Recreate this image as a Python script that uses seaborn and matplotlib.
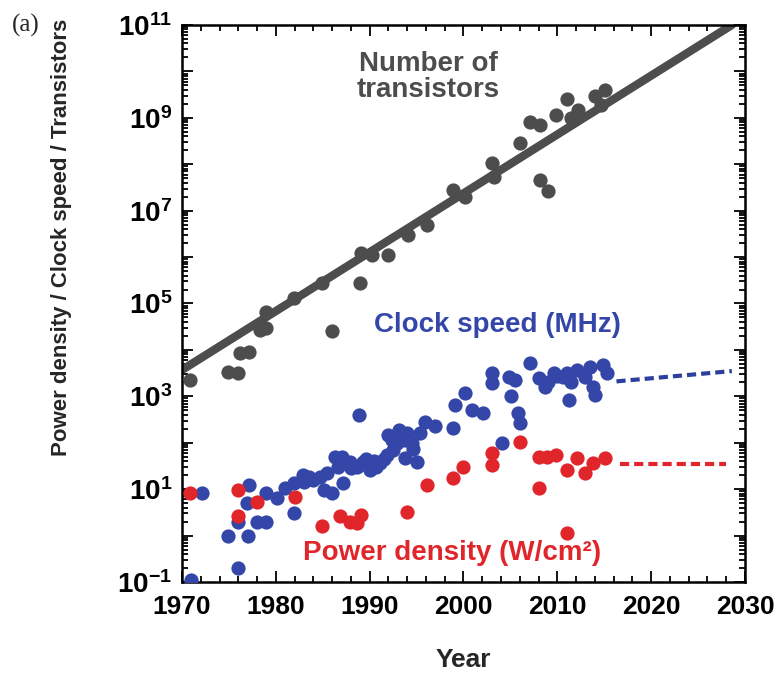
import matplotlib
matplotlib.use("Agg")
import matplotlib.pyplot as plt
import seaborn as sns
import numpy as np
import pandas as pd
from matplotlib.ticker import LogLocator, MultipleLocator, NullFormatter

# data
trans_years = [1970.9, 1974.9, 1976.0, 1976.2, 1977.1, 1978.3, 1979.0, 1979.0, 1981.9, 1984.9,
               1986.0, 1989.0, 1989.1, 1990.2, 1992.0, 1994.1, 1996.1, 1998.9, 2000.2, 2003.0,
               2003.2, 2006.0, 2007.1, 2008.2, 2008.2, 2009.0, 2009.9, 2011.0, 2011.5, 2012.2,
               2014.0, 2014.7, 2015.1]
trans_values = [2.2e3, 3.4e3, 3.2e3, 8.5e3, 9.1e3, 2.7e4, 3.0e4, 6.6e4, 1.3e5, 2.75e5,
                2.5e4, 2.75e5, 1.2e6, 1.1e6, 1.1e6, 3.0e6, 4.9e6, 2.8e7, 2.0e7, 1.05e8,
                5.4e7, 2.8e8, 8.3e8, 7.1e8, 4.6e7, 2.6e7, 1.15e9, 2.6e9, 9.8e8, 1.5e9,
                2.9e9, 1.9e9, 4.0e9]

trend_years = [1970.0, 2028.6]
trend_values = [3.7e3, 1.0e11]

clock_years = [1971.0, 1972.1, 1976.0, 1974.9, 1977.0, 1976.0, 1977.1, 1976.9, 1978.0, 1979.0,
               1979.0, 1980.1, 1981.0, 1981.9, 1981.9, 1982.9, 1983.5, 1984.0, 1984.7, 1985.1,
               1986.0, 1986.3, 1987.0, 1987.2, 1987.9, 1988.0, 1988.6, 1989.3, 1988.9, 1989.8,
               1990.0, 1990.5, 1991.1, 1991.8, 1992.0, 1992.5, 1992.9, 1993.1, 1993.8, 1993.8,
               1994.0, 1994.5, 1995.0, 1995.9, 1997.0, 1999.1, 1998.9, 2000.2, 2000.9, 2002.1,
               2003.0, 2003.0, 2004.1, 2004.8, 2005.1, 2005.5, 2005.8, 2006.0, 2007.1, 2008.0,
               2008.7, 2009.0, 2009.6, 2010.0, 2010.6, 2011.0, 2011.2, 2011.5, 2012.1, 2012.9,
               2013.5, 2013.8, 2014.0, 2014.9, 2015.3,
               1983.0, 1985.5, 1986.6, 1989.6, 1990.7, 1991.5, 1992.4, 1993.5, 1994.6, 1995.4]
clock_values = [0.11, 8.4, 0.2, 1.0, 1.0, 2.0, 12.3, 5.0, 2.0, 2.0,
                8.1, 6.3, 10.5, 13.5, 3.0, 20, 18, 16, 18.6, 9.5,
                8.1, 50, 50, 13.5, 39, 28, 30, 39, 400, 32,
                26, 40, 36, 55, 148, 70, 98, 190, 115, 47,
                160, 100, 39, 280, 224, 645, 204, 1175, 513, 427,
                3160, 1900, 98, 2630, 1000, 2240, 427, 263, 5130, 2450,
                1620, 2000, 3160, 2800, 2630, 3160, 830, 2000, 3700, 2630,
                4370, 1620, 1070, 4790, 3160,
                14, 22, 30, 45, 30, 45, 115, 150, 75, 160]

power_years = [1970.9, 1976.0, 1976.0, 1978.0, 1982.0, 1984.9, 1986.8, 1987.9, 1988.6, 1989.1,
               1994.0, 1996.1, 1998.9, 2000.0, 2003.0, 2003.0, 2006.0, 2008.0, 2008.0, 2008.9,
               2009.9, 2011.0, 2011.0, 2012.1, 2012.9, 2013.8, 2015.1]
power_values = [8.1, 9.5, 2.6, 5.4, 6.8, 1.6, 2.6, 2.0, 1.9, 2.75,
                3.3, 12.3, 17, 30, 59, 33, 105, 50, 10.5, 50,
                55, 26, 1.15, 47, 22, 36, 47]

clock_proj_years = [2016.3, 2028.6]
clock_proj_values = [2.1e3, 3.5e3]
power_proj_years = [2016.7, 2028.0]
power_proj_values = [35, 35]

year_ticks = [1970, 1980, 1990, 2000, 2010, 2020, 2030]
exponents = list(range(-1, 12))

GRAY = "#4d4d4d"
BLUE = "#3447a9"
RED = "#e1262b"

sns.set_theme(style="ticks")
plt.rcParams['font.family'] = ['Liberation Sans', 'DejaVu Sans']
plt.rcParams['mathtext.fontset'] = 'custom'
plt.rcParams['mathtext.rm'] = 'Liberation Sans:bold'
plt.rcParams['mathtext.bf'] = 'Liberation Sans:bold'
plt.rcParams['mathtext.it'] = 'Liberation Sans:bold'

W, H = 778, 676
fig = plt.figure(figsize=(W / 100, H / 100), dpi=100)
ax = fig.add_axes([182 / W, 1 - 582 / H, (745 - 182) / W, (582 - 25) / H])
ax.set_yscale('log')

trend = pd.DataFrame({"year": trend_years, "value": trend_values})
sns.lineplot(data=trend, x="year", y="value", color=GRAY, lw=6, ax=ax)

trans = pd.DataFrame({"year": trans_years, "value": trans_values})
clock = pd.DataFrame({"year": clock_years, "value": clock_values})
power = pd.DataFrame({"year": power_years, "value": power_values})
sns.scatterplot(data=trans, x="year", y="value", color=GRAY, s=105, linewidth=0, ax=ax, zorder=3)
sns.scatterplot(data=clock, x="year", y="value", color=BLUE, s=105, linewidth=0, ax=ax, zorder=3)
sns.scatterplot(data=power, x="year", y="value", color=RED, s=105, linewidth=0, ax=ax, zorder=4)

sns.lineplot(x=clock_proj_years, y=clock_proj_values, color="#2c3f9c", lw=3,
             linestyle=(0, (2.2, 1.2)), ax=ax)
sns.lineplot(x=power_proj_years, y=power_proj_values, color=RED, lw=3,
             linestyle=(0, (2.2, 1.2)), ax=ax)

ax.set_xlim(1970, 2030)
ax.set_ylim(1e-1, 1e11)
ax.set_xticks(year_ticks)
ax.set_xticklabels([str(y) for y in year_ticks], fontweight='bold', fontsize=19)
ax.xaxis.set_minor_locator(MultipleLocator(2))
ax.set_yticks([10.0 ** e for e in exponents])
ax.set_yticklabels([r'$10^{%d}$' % e if e % 2 else '' for e in exponents], fontsize=20)
ax.yaxis.set_minor_locator(LogLocator(base=10, subs=np.arange(2, 10), numticks=100))
ax.yaxis.set_minor_formatter(NullFormatter())
ax.tick_params(which='both', direction='in', top=True, right=True, width=1.3, colors='black')
ax.tick_params(which='major', length=8)
ax.tick_params(which='minor', length=4)
ax.tick_params(axis='x', pad=9)
ax.tick_params(axis='y', pad=7)
for s in ax.spines.values():
    s.set_linewidth(1.8)
    s.set_color('black')
ax.set_xlabel('')
ax.set_ylabel('')

fig.text(62 / W, 1 - 237 / H, 'Power density / Clock speed / Transistors', rotation=90,
         ha='center', va='center', fontsize=16, fontweight='bold')
fig.text(463 / W, 1 - 660 / H, 'Year', ha='center', va='center', fontsize=19, fontweight='bold')
fig.text(12 / W, 1 - 25 / H, '(a)', ha='left', va='center', fontsize=18,
         family=['Liberation Serif', 'DejaVu Serif'])
fig.text(428 / W, 1 - 77 / H, 'Number of\ntransistors', ha='center', va='center',
         fontsize=20, fontweight='bold', color=GRAY, linespacing=1.0)
fig.text(497 / W, 1 - 325 / H, 'Clock speed (MHz)', ha='center', va='center',
         fontsize=20, fontweight='bold', color=BLUE)
fig.text(452 / W, 1 - 553 / H, 'Power density (W/cm²)', ha='center', va='center',
         fontsize=20, fontweight='bold', color=RED)

fig.savefig('out.png', dpi=100)
